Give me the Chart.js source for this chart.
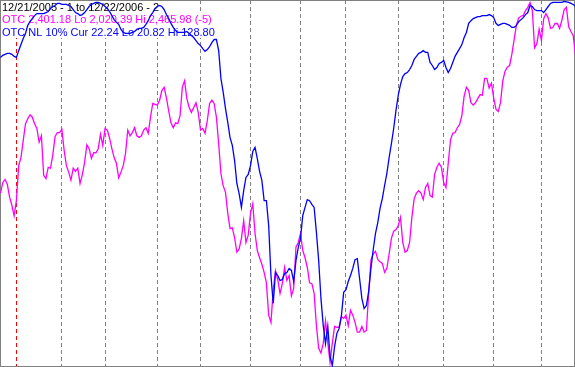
<!DOCTYPE html>
<html>
<head>
<meta charset="utf-8">
<script src="https://cdn.jsdelivr.net/npm/chart.js@4"></script>
<style>
  html, body { margin: 0; padding: 0; background: #fff; }
  canvas { display: block; }
</style>
</head>
<body>
<canvas id="chart" width="575" height="367"></canvas>
<script>
// trading days 12/21/2005 .. 12/22/2006, index 0..253
const otc = [
  2230, 2243, 2247, 2241, 2225, 2215, 2202, 2221, 2264, 2274,
  2295, 2316, 2322, 2327, 2324, 2316, 2310, 2293, 2301, 2252,
  2248, 2262, 2261, 2277, 2300, 2305, 2305, 2309, 2283, 2264,
  2256, 2246, 2261, 2257, 2261, 2242, 2253, 2268, 2290, 2285,
  2273, 2280, 2280, 2285, 2303, 2289, 2310, 2308, 2298, 2285,
  2274, 2267, 2249, 2256, 2264, 2279, 2308, 2301, 2305, 2311,
  2301, 2299, 2301, 2308, 2311, 2304, 2324, 2341, 2340, 2339,
  2345, 2357, 2361, 2348, 2332, 2317, 2311, 2317, 2316, 2326,
  2361, 2369, 2347, 2336, 2330, 2336, 2342, 2330, 2308, 2310,
  2304, 2320, 2341, 2345, 2341, 2324, 2291, 2254, 2239, 2231,
  2205, 2186, 2187, 2175, 2157, 2161, 2174, 2196, 2169, 2178,
  2205, 2217, 2180, 2159, 2150, 2142, 2132, 2119, 2079, 2070,
  2110, 2134, 2123, 2106, 2118, 2138, 2122, 2128, 2103, 2112,
  2163, 2169, 2180, 2159, 2150, 2138, 2119, 2118, 2106, 2066,
  2038, 2032, 2044, 2072, 2045, 2020.39, 2044, 2065, 2064, 2064,
  2077, 2075, 2079, 2066, 2085, 2079, 2070, 2058, 2058, 2065,
  2058, 2060, 2106, 2147, 2155, 2158, 2148, 2145, 2143, 2132,
  2137, 2155, 2174, 2183, 2185, 2190, 2200, 2169, 2157, 2159,
  2169, 2200, 2223, 2230, 2233, 2230, 2222, 2237, 2242, 2227,
  2225, 2253, 2262, 2267, 2262, 2243, 2237, 2267, 2296, 2304,
  2305, 2311, 2315, 2326, 2350, 2361, 2357, 2342, 2339, 2342,
  2347, 2352, 2351, 2372, 2372, 2360, 2366, 2348, 2334, 2331,
  2342, 2369, 2381, 2386, 2388, 2402, 2420, 2438, 2447, 2449,
  2450, 2456, 2460, 2465.98, 2456, 2410, 2415, 2433, 2419, 2446,
  2452, 2447, 2434, 2435, 2440, 2440, 2434, 2444, 2457, 2460,
  2436, 2430, 2425, 2401.18
];

const nl10 = [
  37.4, 36.8, 36.5, 36.2, 36.2, 36.5, 37.1, 37.4, 35.4, 33.6,
  31.8, 30.3, 27.9, 26.8, 25.9, 25.0, 24.4, 24.4, 24.4, 24.4,
  24.1, 23.8, 22.9, 22.3, 22.0, 21.4, 21.4, 21.7, 21.7, 21.7,
  22.0, 22.3, 23.2, 24.1, 24.4, 25.0, 24.7, 24.1, 23.2, 22.3,
  21.7, 21.4, 21.1, 21.1, 21.4, 21.7, 22.3, 22.9, 23.8, 25.0,
  26.2, 27.0, 27.6, 29.1, 30.0, 30.3, 30.3, 30.3, 30.0, 29.7,
  29.1, 28.8, 28.8, 28.5, 27.6, 26.5, 25.0, 24.1, 22.9, 22.3,
  22.0, 22.3, 23.2, 24.7, 25.9, 27.3, 28.5, 29.4, 30.0, 30.0,
  30.0, 30.0, 29.7, 30.3, 30.9, 31.5, 32.4, 33.3, 33.9, 34.8,
  35.6, 35.1, 34.2, 33.0, 32.1, 32.1, 35.4, 43.7, 47.8, 52.6,
  56.7, 61.2, 63.5, 68.0, 74.8, 77.8, 81.9, 76.9, 73.0, 72.1,
  69.5, 65.3, 64.1, 67.4, 71.2, 73.9, 79.9, 79.9, 87.3, 102.1,
  110.4, 101.2, 102.1, 103.6, 103.3, 101.5, 101.2, 100.0, 100.6, 103.9,
  97.7, 93.8, 91.1, 84.3, 81.9, 79.6, 79.9, 81.0, 81.9, 89.3,
  97.7, 108.9, 116.9, 122.3, 117.2, 126.1, 128.8, 123.2, 119.3, 117.8,
  114.0, 107.1, 106.3, 103.9, 102.1, 100.0, 97.4, 97.1, 103.0, 108.9,
  111.9, 111.0, 106.8, 100.0, 94.4, 89.6, 86.4, 82.2, 79.3, 75.4,
  71.8, 67.1, 63.0, 58.5, 53.2, 48.7, 45.4, 43.1, 42.2, 41.9,
  41.0, 39.8, 38.0, 37.1, 36.2, 35.9, 35.4, 35.9, 35.9, 38.9,
  39.8, 41.0, 40.4, 39.2, 38.9, 38.3, 40.4, 41.9, 40.7, 38.9,
  37.1, 35.9, 34.8, 33.6, 31.5, 30.0, 27.3, 26.5, 25.9, 25.6,
  25.3, 25.3, 25.0, 25.0, 25.0, 24.7, 25.0, 25.6, 27.3, 27.9,
  27.6, 27.3, 27.3, 27.6, 27.9, 28.5, 28.5, 27.9, 26.8, 26.2,
  25.6, 24.7, 24.1, 22.0, 22.3, 23.2, 23.5, 23.5, 23.5, 24.1,
  23.2, 22.3, 21.4, 21.1, 21.1, 21.1, 21.1, 21.1, 20.82, 20.9,
  21.1, 21.4, 21.7, 22.24
];

// first trading day of each month (index), the first one is the new year
const monthStarts = [7, 27, 46, 69, 88, 110, 132, 152, 175, 195, 217, 238];
const yearStart = 7;

const headerLines = [
  { text: '12/21/2005 - 1 to 12/22/2006 - 2', color: '#000000' },
  { text: 'OTC 2,401.18 Lo 2,020.39 Hi 2,465.98 (-5)', color: '#ff00ff' },
  { text: 'OTC NL 10% Cur 22.24 Lo 20.82 Hi 128.80', color: '#0000ff' }
];

const days = otc.map((_, i) => i);

// header text on white boxes + frame, drawn over the grid but under the lines
const headerPlugin = {
  id: 'header',
  beforeDatasetsDraw(chart) {
    const ctx = chart.ctx;
    ctx.save();
    ctx.font = '11px "Liberation Sans", Arial, sans-serif';
    ctx.textBaseline = 'alphabetic';
    const baselines = [11, 23, 36];
    headerLines.forEach((line, i) => {
      const w = ctx.measureText(line.text).width;
      ctx.fillStyle = '#ffffff';
      ctx.fillRect(1, baselines[i] - 11, w + 3, 13);
      ctx.fillStyle = line.color;
      ctx.fillText(line.text, 2, baselines[i]);
    });
    ctx.strokeStyle = '#808080';
    ctx.lineWidth = 1;
    ctx.strokeRect(0.5, 0.5, chart.width - 1, chart.height - 1);
    ctx.restore();
  }
};

new Chart(document.getElementById('chart'), {
  type: 'line',
  data: {
    labels: days,
    datasets: [
      {
        label: 'OTC NL 10%',
        data: nl10,
        yAxisID: 'yNL',
        borderColor: '#0000ff',
        borderWidth: 1.3,
        pointRadius: 0,
        tension: 0
      },
      {
        label: 'OTC',
        data: otc,
        yAxisID: 'yOTC',
        borderColor: '#ff00ff',
        borderWidth: 1.3,
        pointRadius: 0,
        tension: 0
      }
    ]
  },
  options: {
    responsive: false,
    animation: false,
    devicePixelRatio: 1,
    layout: { padding: 0 },
    plugins: {
      legend: { display: false },
      tooltip: { enabled: false }
    },
    scales: {
      x: {
        type: 'linear',
        min: -0.22,
        max: 252.78,
        afterBuildTicks: (scale) => {
          scale.ticks = monthStarts.map(v => ({ value: v }));
        },
        grid: {
          color: (c) => c.tick && c.tick.value === yearStart ? '#ff0000' : '#808080',
          lineWidth: 1,
          drawTicks: false
        },
        border: { display: false, dash: [4, 3] },
        ticks: { display: false }
      },
      yOTC: {
        display: false,
        min: 2014.82,
        max: 2469.07
      },
      yNL: {
        display: false,
        reverse: true,
        min: 20.375,
        max: 129.245
      }
    }
  },
  plugins: [headerPlugin]
});
</script>
</body>
</html>
